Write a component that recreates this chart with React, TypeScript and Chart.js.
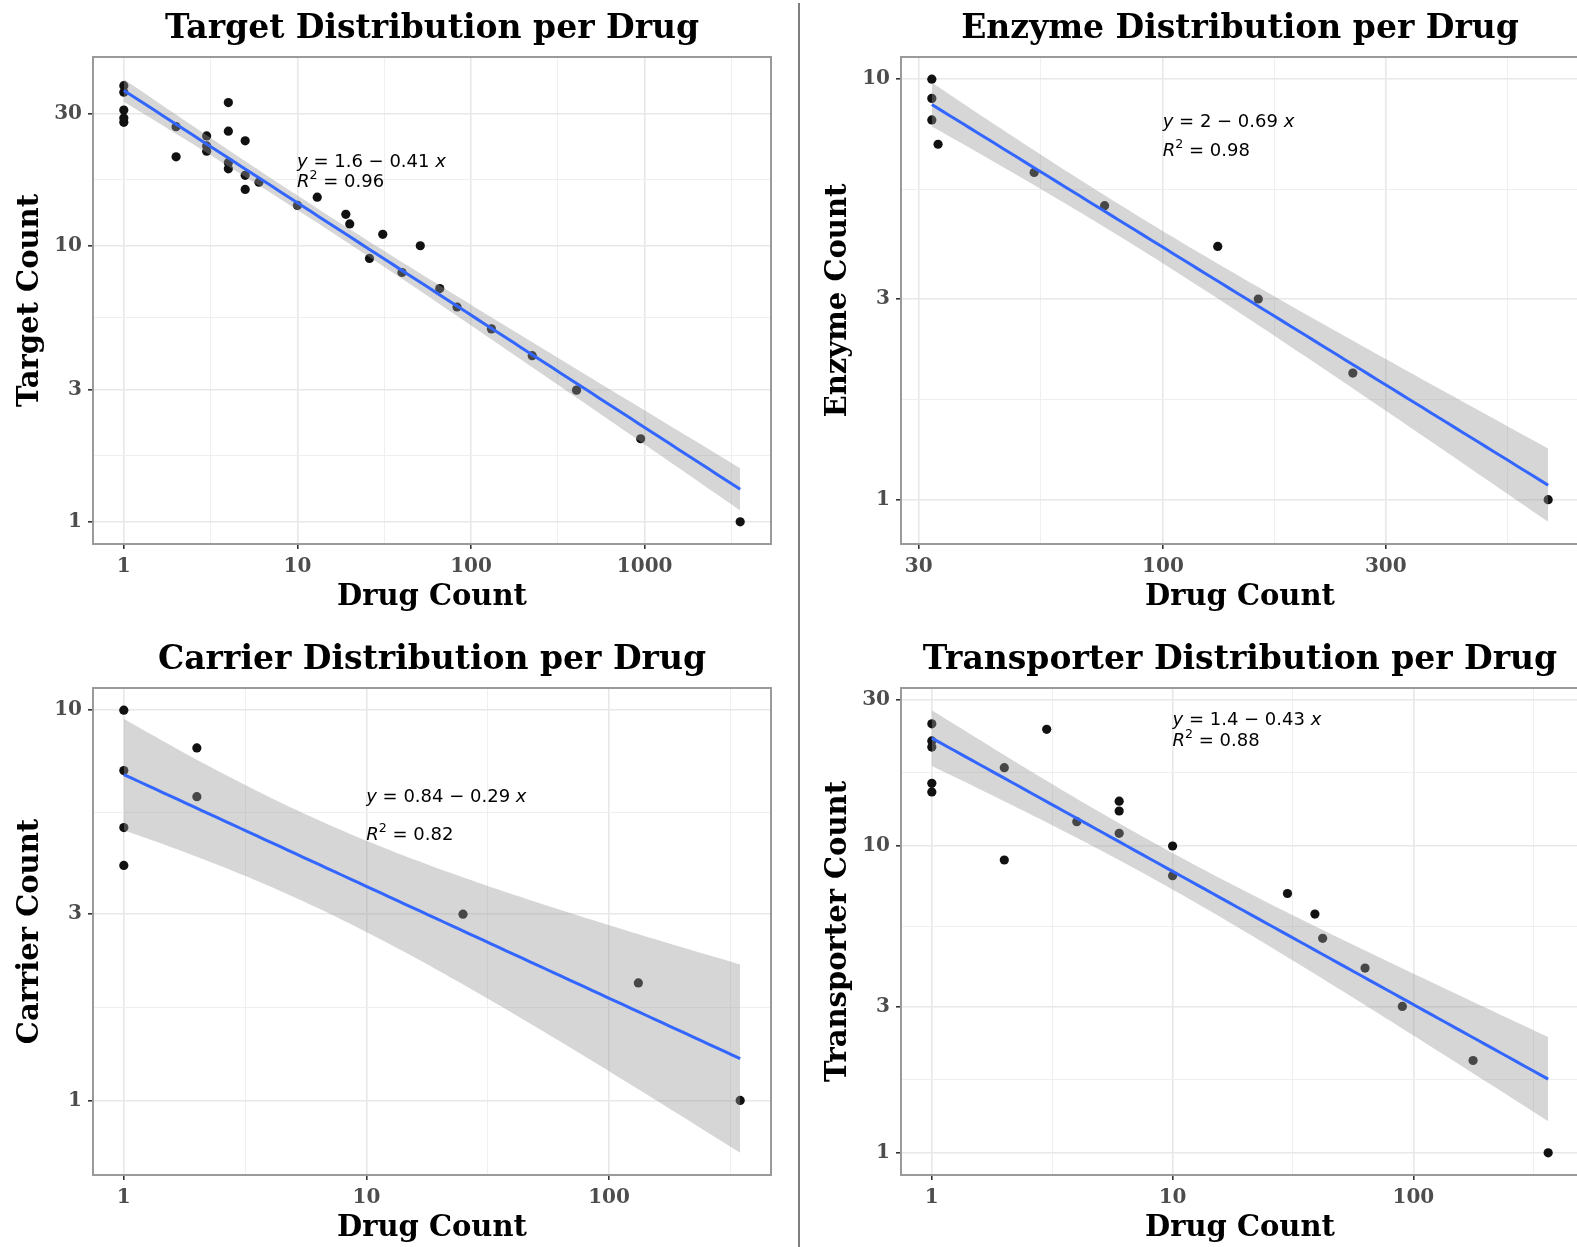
import React, { useEffect, useRef } from "react";
import { Chart, registerables } from "chart.js";

Chart.register(...registerables);

// ---------------- data ----------------
// Target distribution per drug
const targetDrugCount = [1, 1, 1, 1, 1, 2, 2, 3, 3, 3, 4, 4, 4, 4, 5, 5, 5, 6, 10, 13, 19, 20, 26, 31, 40, 51, 66, 83, 131, 225, 405, 948, 3548];
const targetCount = [38, 36, 31, 29, 28, 27, 21, 25, 23, 22, 33, 26, 20, 19, 24, 18, 16, 17, 14, 15, 13, 12, 9, 11, 8, 10, 7, 6, 5, 4, 3, 2, 1];
const targetXTicks = [1, 10, 100, 1000];
const targetYTicks = [1, 3, 10, 30];
const targetEq = ["1.6", "0.41", "0.96"];

// Enzyme distribution per drug
const enzymeDrugCount = [32, 32, 32, 33, 53, 75, 131, 160, 255, 668];
const enzymeCount = [10, 9, 8, 7, 6, 5, 4, 3, 2, 1];
const enzymeXTicks = [30, 100, 300];
const enzymeYTicks = [1, 3, 10];
const enzymeEq = ["2", "0.69", "0.98"];

// Carrier distribution per drug
const carrierDrugCount = [1, 1, 1, 1, 2, 2, 25, 132, 347];
const carrierCount = [10, 7, 5, 4, 8, 6, 3, 2, 1];
const carrierXTicks = [1, 10, 100];
const carrierYTicks = [1, 3, 10];
const carrierEq = ["0.84", "0.29", "0.82"];

// Transporter distribution per drug
const transporterDrugCount = [1, 1, 1, 1, 1, 2, 2, 3, 4, 6, 6, 6, 10, 10, 30, 39, 42, 63, 90, 177, 363];
const transporterCount = [25, 22, 21, 16, 15, 18, 9, 24, 12, 14, 13, 11, 10, 8, 7, 6, 5, 4, 3, 2, 1];
const transporterXTicks = [1, 10, 100];
const transporterYTicks = [1, 3, 10, 30];
const transporterEq = ["1.4", "0.43", "0.88"];

// ---------------- styling / layout ----------------
const SERIF = '"DejaVu Serif", serif';
const SANS = '"DejaVu Sans", sans-serif';
const CANVAS_W = 798;
const CANVAS_H = 623;

type Spec = {
  title: string;
  yTitle: string;
  xs: number[];
  ys: number[];
  xTicks: number[];
  yTicks: number[];
  eq: string[];
  eqPos: [number, number, number];
  left: number;
  top: number;
};

const specs: Spec[] = [
  { title: "Target Distribution per Drug", yTitle: "Target Count", xs: targetDrugCount, ys: targetCount, xTicks: targetXTicks, yTicks: targetYTicks, eq: targetEq, eqPos: [0.301, 0.226, 0.267], left: 0, top: 0 },
  { title: "Enzyme Distribution per Drug", yTitle: "Enzyme Count", xs: enzymeDrugCount, ys: enzymeCount, xTicks: enzymeXTicks, yTicks: enzymeYTicks, eq: enzymeEq, eqPos: [0.386, 0.143, 0.204], left: 808, top: 0 },
  { title: "Carrier Distribution per Drug", yTitle: "Carrier Count", xs: carrierDrugCount, ys: carrierCount, xTicks: carrierXTicks, yTicks: carrierYTicks, eq: carrierEq, eqPos: [0.403, 0.235, 0.313], left: 0, top: 631 },
  { title: "Transporter Distribution per Drug", yTitle: "Transporter Count", xs: transporterDrugCount, ys: transporterCount, xTicks: transporterXTicks, yTicks: transporterYTicks, eq: transporterEq, eqPos: [0.4005, 0.0753, 0.12], left: 808, top: 631 },
];

// ---------------- stats helpers (lm in log-log space, 95% CI like geom_smooth) ----------------
function t975(df: number) {
  const z = 1.959964;
  const g1 = (z ** 3 + z) / 4;
  const g2 = (5 * z ** 5 + 16 * z ** 3 + 3 * z) / 96;
  const g3 = (3 * z ** 7 + 19 * z ** 5 + 17 * z ** 3 - 15 * z) / 384;
  const g4 = (79 * z ** 9 + 776 * z ** 7 + 1482 * z ** 5 - 1920 * z ** 3 - 945 * z) / 92160;
  return z + g1 / df + g2 / df ** 2 + g3 / df ** 3 + g4 / df ** 4;
}

function fitBand(xs: number[], ys: number[], n = 80) {
  const X = xs.map((v) => Math.log10(v));
  const Y = ys.map((v) => Math.log10(v));
  const N = X.length;
  const mx = X.reduce((a, b) => a + b, 0) / N;
  const my = Y.reduce((a, b) => a + b, 0) / N;
  let sxx = 0, sxy = 0;
  for (let i = 0; i < N; i++) {
    sxx += (X[i] - mx) ** 2;
    sxy += (X[i] - mx) * (Y[i] - my);
  }
  const b = sxy / sxx;
  const a = my - b * mx;
  let sse = 0;
  for (let i = 0; i < N; i++) sse += (Y[i] - a - b * X[i]) ** 2;
  const s = Math.sqrt(sse / (N - 2));
  const t = t975(N - 2);
  const x0 = Math.min(...X), x1 = Math.max(...X);
  const pts: { x: number; fit: number; lo: number; hi: number }[] = [];
  for (let i = 0; i < n; i++) {
    const xv = x0 + ((x1 - x0) * i) / (n - 1);
    const f = a + b * xv;
    const se = s * Math.sqrt(1 / N + (xv - mx) ** 2 / sxx);
    pts.push({ x: 10 ** xv, fit: 10 ** f, lo: 10 ** (f - t * se), hi: 10 ** (f + t * se) });
  }
  return pts;
}

function expand(r: [number, number]): [number, number] {
  const d = (r[1] - r[0]) * 0.05;
  return [r[0] - d, r[1] + d];
}

function minorBreaks(majLog: number[], lim: [number, number]) {
  let b = [...majLog];
  const bd = b[1] - b[0];
  if (lim[0] < b[0]) b = [b[0] - bd, ...b];
  if (lim[1] > b[b.length - 1]) b = [...b, b[b.length - 1] + bd];
  const out: number[] = [];
  for (let i = 0; i < b.length - 1; i++) out.push((b[i] + b[i + 1]) / 2);
  return out.filter((v) => v > lim[0] && v < lim[1]);
}

function buildTicks(majors: number[], lim: [number, number]) {
  const majLog = majors.map((v) => Math.log10(v));
  const mins = minorBreaks(majLog, lim);
  const t: any[] = [
    ...majors.filter((v) => Math.log10(v) >= lim[0] && Math.log10(v) <= lim[1]).map((v) => ({ value: v, minor: false })),
    ...mins.map((v) => ({ value: 10 ** v, minor: true })),
  ];
  t.sort((p, q) => p.value - q.value);
  return t;
}

type Tok = { t: string; it?: boolean; sup?: boolean };
function drawRich(ctx: CanvasRenderingContext2D, x: number, y: number, toks: Tok[], size: number) {
  let cx = x;
  for (const tk of toks) {
    const fs = tk.sup ? size * 0.7 : size;
    ctx.font = `${tk.it ? "italic " : ""}${fs}px ${SANS}`;
    ctx.fillText(tk.t, cx, tk.sup ? y - size * 0.45 : y);
    cx += ctx.measureText(tk.t).width;
  }
}

function makeConfig(p: Spec): any {
  const pts = fitBand(p.xs, p.ys);
  const lx = p.xs.map((v) => Math.log10(v));
  const ly = p.ys.map((v) => Math.log10(v));
  const xlim = expand([Math.min(...lx), Math.max(...lx)]);
  const yAll = [...ly, ...pts.map((q) => Math.log10(q.lo)), ...pts.map((q) => Math.log10(q.hi))];
  const ylim = expand([Math.min(...yAll), Math.max(...yAll)]);
  const xTicks = buildTicks(p.xTicks, xlim);
  const yTicks = buildTicks(p.yTicks, ylim);
  const xMin = 10 ** xlim[0], xMax = 10 ** xlim[1];
  const yMin = 10 ** ylim[0], yMax = 10 ** ylim[1];

  const gridOpts = {
    color: (c: any) => (c.tick && c.tick.minor ? "#efefef" : "#e8e8e8"),
    lineWidth: (c: any) => (c.tick && c.tick.minor ? 1 : 1.6),
    tickColor: (c: any) => (c.tick && c.tick.minor ? "rgba(0,0,0,0)" : "#333333"),
    tickWidth: 1.6,
    tickLength: 5,
    drawTicks: true,
  };
  const tickFont = { family: SERIF, weight: "bold", size: 20 };
  const labelCb = (_v: any, i: number, ticks: any[]) => (ticks[i].minor ? "" : String(ticks[i].value));

  const border = {
    id: "panelBorder",
    afterDatasetsDraw(chart: any) {
      const { ctx, chartArea: a } = chart;
      ctx.save();
      // equation labels (ggpmisc-like, npc positions)
      ctx.fillStyle = "#000";
      ctx.textBaseline = "alphabetic";
      ctx.textAlign = "left";
      const x = a.left + p.eqPos[0] * (a.right - a.left);
      const y1 = a.top + p.eqPos[1] * (a.bottom - a.top);
      const y2 = a.top + p.eqPos[2] * (a.bottom - a.top);
      drawRich(ctx, x, y1, [{ t: "y", it: true }, { t: " = " + p.eq[0] + " \u2212 " + p.eq[1] + " " }, { t: "x", it: true }], 18);
      drawRich(ctx, x, y2, [{ t: "R", it: true }, { t: "2", sup: true }, { t: " = " + p.eq[2] }], 18);
      ctx.strokeStyle = "#9a9a9a";
      ctx.lineWidth = 2;
      ctx.strokeRect(a.left, a.top, a.right - a.left, a.bottom - a.top);
      ctx.restore();
    },
  };

  return {
    type: "scatter",
    data: {
      datasets: [
        { type: "line", label: "fit", data: pts.map((q) => ({ x: q.x, y: q.fit })), borderColor: "#3366FF", borderWidth: 3, pointRadius: 0, fill: false, order: 0 },
        { type: "line", label: "upper", data: pts.map((q) => ({ x: q.x, y: q.hi })), borderColor: "rgba(0,0,0,0)", borderWidth: 1, pointRadius: 0, backgroundColor: "rgba(153,153,153,0.4)", fill: "+1", order: 1 },
        { type: "line", label: "lower", data: pts.map((q) => ({ x: q.x, y: q.lo })), borderColor: "rgba(0,0,0,0)", borderWidth: 1, pointRadius: 0, fill: false, order: 1 },
        { type: "scatter", label: "points", data: p.xs.map((x, i) => ({ x, y: p.ys[i] })), backgroundColor: "#111111", borderColor: "#111111", borderWidth: 0, pointRadius: 4.6, order: 2 },
      ],
    },
    options: {
      responsive: false,
      animation: false,
      devicePixelRatio: 1,
      events: [],
      layout: { padding: { left: 0, right: 27, top: 0, bottom: 0 }, autoPadding: false },
      plugins: {
        legend: { display: false },
        tooltip: { enabled: false },
        title: {
          display: true,
          text: p.title,
          fullSize: false,
          color: "#000",
          font: { family: SERIF, weight: "bold", size: 33, lineHeight: 1.2 },
          padding: { top: 10, bottom: 7.4 },
        },
      },
      scales: {
        x: {
          type: "logarithmic",
          position: "bottom",
          min: xMin,
          max: xMax,
          afterDataLimits: (s: any) => { s.min = xMin; s.max = xMax; },
          afterBuildTicks: (s: any) => { s.ticks = xTicks.map((t) => ({ ...t })); s.min = xMin; s.max = xMax; },
          afterFit: (s: any) => { s.height = 79; },
          ticks: { autoSkip: false, maxRotation: 0, minRotation: 0, padding: 6, color: "#4d4d4d", font: tickFont, callback: labelCb },
          grid: gridOpts,
          border: { display: false },
          title: { display: true, text: "Drug Count", color: "#000", font: { family: SERIF, weight: "bold", size: 29, lineHeight: 1.2 }, padding: { top: 0, bottom: 8.6 } },
        },
        y: {
          type: "logarithmic",
          position: "left",
          min: yMin,
          max: yMax,
          afterDataLimits: (s: any) => { s.min = yMin; s.max = yMax; },
          afterBuildTicks: (s: any) => { s.ticks = yTicks.map((t) => ({ ...t })); s.min = yMin; s.max = yMax; },
          afterFit: (s: any) => { s.width = 93; },
          ticks: { autoSkip: false, padding: 6, color: "#4d4d4d", font: tickFont, callback: labelCb },
          grid: gridOpts,
          border: { display: false },
          title: { display: true, text: p.yTitle, color: "#000", font: { family: SERIF, weight: "bold", size: 29, lineHeight: 1.2 }, padding: { top: 13, bottom: 0 } },
        },
      },
    },
    plugins: [border],
  };
}

function Panel({ spec }: { spec: Spec }) {
  const ref = useRef<HTMLCanvasElement>(null);
  useEffect(() => {
    const c = ref.current;
    if (!c) return;
    const chart = new Chart(c, makeConfig(spec));
    return () => chart.destroy();
  }, [spec]);
  return (
    <canvas
      ref={ref}
      width={CANVAS_W}
      height={CANVAS_H}
      style={{ position: "absolute", left: spec.left, top: spec.top, width: CANVAS_W, height: CANVAS_H }}
    />
  );
}

export default function App() {
  return (
    <div style={{ position: "absolute", left: 0, top: 0, width: 1577, height: 1247, overflow: "hidden", background: "#fff" }}>
      {specs.map((s) => (
        <Panel key={s.title} spec={s} />
      ))}
      <div style={{ position: "absolute", left: 798, top: 3, width: 2, height: 1244, background: "#7f7f7f" }} />
    </div>
  );
}
